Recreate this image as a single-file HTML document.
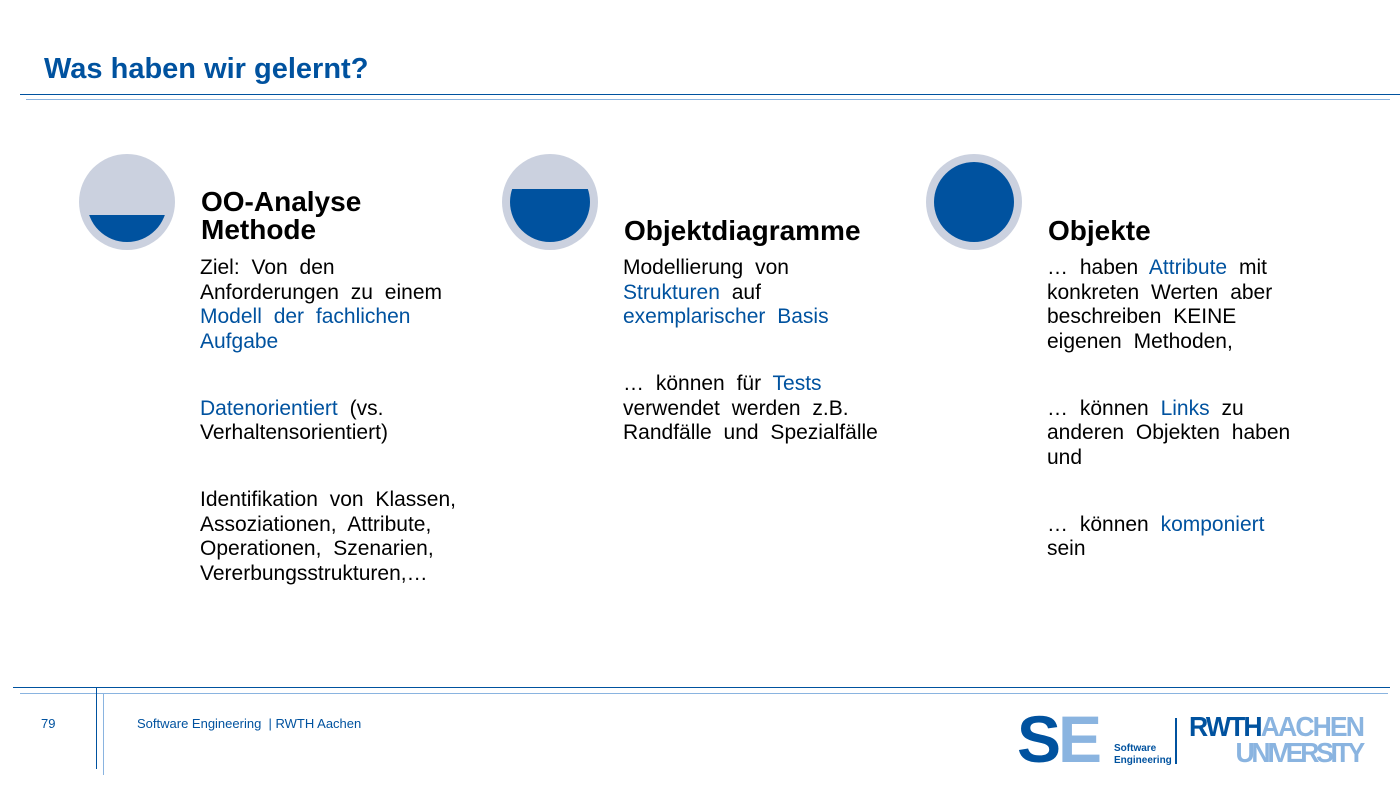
<!DOCTYPE html>
<html><head><meta charset="utf-8"><style>
body{margin:0;width:1400px;height:788px;background:#fff;position:relative;overflow:hidden;font-family:"Liberation Sans",Arial,sans-serif}
.a{position:absolute}
.h{font-weight:bold;font-size:28px;line-height:28px;color:#000}
.t{font-size:21px;line-height:24.5px;color:#000;white-space:nowrap;word-spacing:6px}
.t p{margin:42.5px 0 0 0}
.t p:first-child{margin-top:0}
.b{color:#00529f}
</style></head><body>
<div class="a" style="left:44px;top:53px;font-size:29px;font-weight:bold;color:#00529f">Was haben wir gelernt?</div>
<div class="a" style="left:20px;top:94px;width:1380px;height:1px;background:#00529f"></div>
<div class="a" style="left:26px;top:99px;width:1364px;height:1px;background:#8ab4e0"></div>

<svg class="a" style="left:0;top:0" width="1400" height="300">
<defs>
<clipPath id="c1"><rect x="0" y="215" width="300" height="100"/></clipPath>
<clipPath id="c2"><rect x="400" y="189" width="300" height="100"/></clipPath>
</defs>
<circle cx="127" cy="202" r="48" fill="#cbd1df"/>
<circle cx="127" cy="202" r="40" fill="#00529f" clip-path="url(#c1)"/>
<circle cx="550" cy="202" r="48" fill="#cbd1df"/>
<circle cx="550" cy="202" r="40" fill="#00529f" clip-path="url(#c2)"/>
<circle cx="974" cy="202" r="48" fill="#cbd1df"/>
<circle cx="974" cy="202" r="40" fill="#00529f"/>
</svg>

<div class="a h" style="left:201px;top:188px">OO-Analyse<br>Methode</div>
<div class="a t" style="left:200px;top:256px"><p>Ziel: Von den<br>Anforderungen zu einem<br><span class="b">Modell der fachlichen<br>Aufgabe</span></p><p><span class="b">Datenorientiert</span> (vs.<br>Verhaltensorientiert)</p><p>Identifikation von Klassen,<br>Assoziationen, Attribute,<br>Operationen, Szenarien,<br>Vererbungsstrukturen,…</p></div>

<div class="a h" style="left:624px;top:217px">Objektdiagramme</div>
<div class="a t" style="left:623px;top:256px"><p>Modellierung von<br><span class="b">Strukturen</span> auf<br><span class="b">exemplarischer Basis</span></p><p>… können für <span class="b">Tests</span><br>verwendet werden z.B.<br>Randfälle und Spezialfälle</p></div>

<div class="a h" style="left:1048px;top:217px">Objekte</div>
<div class="a t" style="left:1047px;top:256px"><p>… haben <span class="b">Attribute</span> mit<br>konkreten Werten aber<br>beschreiben KEINE<br>eigenen Methoden,</p><p>… können <span class="b">Links</span> zu<br>anderen Objekten haben<br>und</p><p>… können <span class="b">komponiert</span><br>sein</p></div>

<div class="a" style="left:13px;top:687px;width:1377px;height:1px;background:#00529f"></div>
<div class="a" style="left:20px;top:693px;width:1368px;height:1px;background:#8ab4e0"></div>
<div class="a" style="left:96px;top:687px;width:1px;height:82px;background:#00529f"></div>
<div class="a" style="left:103px;top:693px;width:1px;height:82px;background:#8ab4e0"></div>
<div class="a" style="left:41px;top:716px;font-size:13px;color:#00529f">79</div>
<div class="a" style="left:137px;top:716px;font-size:13px;color:#00529f">Software Engineering &nbsp;| RWTH Aachen</div>

<div class="a" style="left:1017px;top:706px;font-size:66px;font-weight:bold;letter-spacing:-3px;line-height:66px"><span style="color:#00529f">S</span><span style="color:#8ab4e0">E</span></div>
<div class="a" style="left:1114px;top:743px;font-size:10px;font-weight:bold;color:#00529f;line-height:12px">Software<br>Engineering</div>
<div class="a" style="left:1175px;top:718px;width:2px;height:46px;background:#00529f"></div>
<div class="a" style="left:1189px;top:714px;font-size:28px;font-weight:bold;line-height:26px;letter-spacing:-2px;transform:scaleX(0.95);transform-origin:left"><span style="color:#00529f">RWTH</span><span style="color:#8ab4e0">AACHEN</span><br><span style="color:#8ab4e0;margin-left:49px;letter-spacing:-3.5px">UNIVERSITY</span></div>
</body></html>
